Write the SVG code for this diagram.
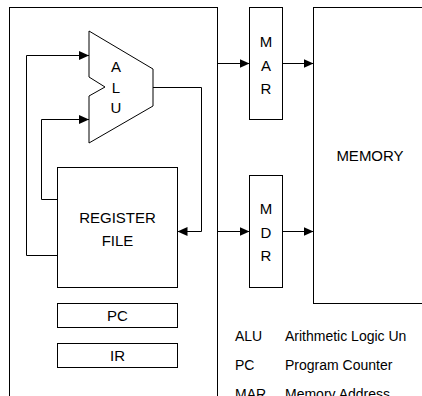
<svg xmlns="http://www.w3.org/2000/svg" width="422" height="396" viewBox="0 0 422 396">
<style>
.box{fill:#fff;stroke:#000;stroke-width:1}
.ln{fill:none;stroke:#000;stroke-width:1}
.t{font-family:"Liberation Sans",Arial,sans-serif;font-size:15px;fill:#000;text-anchor:middle}
.lg{font-family:"Liberation Sans",Arial,sans-serif;font-size:14px;fill:#000}
</style>
<defs>
<marker id="ah" markerUnits="userSpaceOnUse" markerWidth="10" markerHeight="9" refX="10" refY="4.5" orient="auto">
<path d="M0,0 L10,4.5 L0,9 z" fill="#000"/>
</marker>
</defs>
<rect width="422" height="396" fill="#fff"/>
<g id="cpu"><rect class="box" x="9.5" y="7.5" width="208" height="400"/></g>
<g id="memory"><rect class="box" x="313.5" y="7.5" width="200" height="296"/><text class="t" x="370" y="161">MEMORY</text></g>
<g id="mar"><rect class="box" x="249.5" y="7.5" width="33" height="112"/>
<text class="t" x="266" y="47">M</text><text class="t" x="266" y="70.5">A</text><text class="t" x="266" y="94">R</text></g>
<g id="mdr"><rect class="box" x="249.5" y="175.5" width="33" height="112"/>
<text class="t" x="266" y="214">M</text><text class="t" x="266" y="237.5">D</text><text class="t" x="266" y="261">R</text></g>
<g id="alu"><polygon class="box" points="89,31 153,69 153,106 89,143 89,96 105,87 89,77"/>
<text class="t" x="116" y="72">A</text><text class="t" x="116" y="92.5">L</text><text class="t" x="116" y="112.5">U</text></g>
<g id="regfile"><rect class="box" x="57.5" y="167.5" width="120" height="120"/>
<text class="t" x="117.5" y="223">REGISTER</text><text class="t" x="117.5" y="246">FILE</text></g>
<g id="pc"><rect class="box" x="57.5" y="303.5" width="120" height="24"/><text class="t" x="117.5" y="321">PC</text></g>
<g id="ir"><rect class="box" x="57.5" y="343.5" width="120" height="24"/><text class="t" x="117.5" y="361">IR</text></g>
<g id="connectors">
<path class="ln" d="M57.5,255.5 H26.5 V55.5 H89" marker-end="url(#ah)"/>
<path class="ln" d="M57.5,199.5 H41.5 V119.5 H89" marker-end="url(#ah)"/>
<path class="ln" d="M153,87.5 H201.5 V231.5 H177.5" marker-end="url(#ah)"/>
<path class="ln" d="M217.5,63.5 H249.5" marker-end="url(#ah)"/>
<path class="ln" d="M282.5,63.5 H313.5" marker-end="url(#ah)"/>
<path class="ln" d="M217.5,231.5 H249.5" marker-end="url(#ah)"/>
<path class="ln" d="M282.5,231.5 H313.5" marker-end="url(#ah)"/>
</g>
<g id="legend">
<text class="lg" x="235" y="341">ALU</text><text class="lg" x="285" y="341">Arithmetic Logic Un</text>
<text class="lg" x="235" y="370">PC</text><text class="lg" x="285" y="370">Program Counter</text>
<text class="lg" x="235" y="399">MAR</text><text class="lg" x="285" y="399">Memory Address</text>
</g>
</svg>
